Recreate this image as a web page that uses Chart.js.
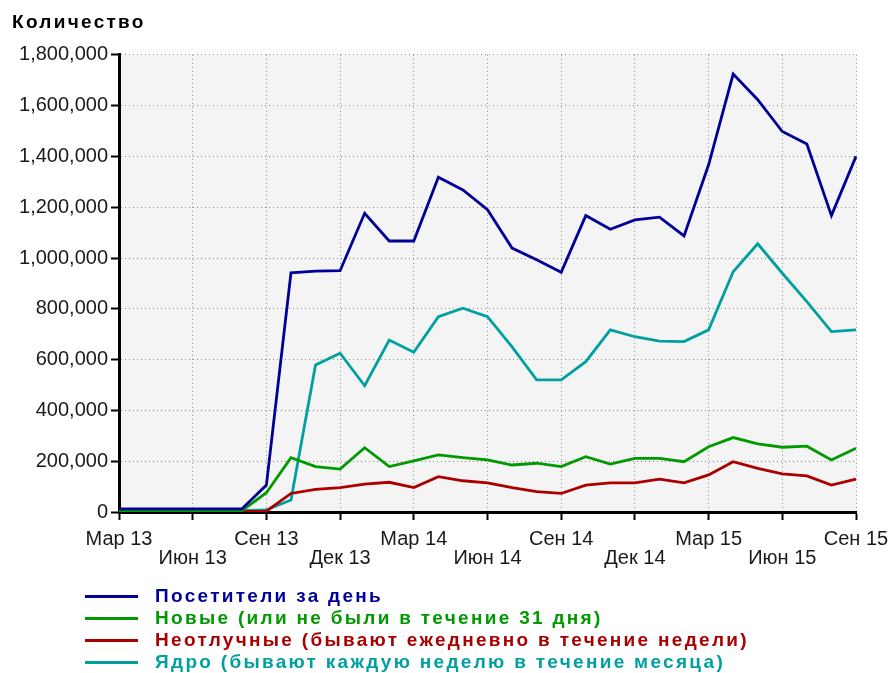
<!DOCTYPE html>
<html>
<head>
<meta charset="utf-8">
<script src="https://cdn.jsdelivr.net/npm/chart.js@4"></script>
<style>
  html, body { margin: 0; padding: 0; background: #fff; }
</style>
</head>
<body>
<canvas id="chart" width="888" height="673"></canvas>
<script>
// one point per month, Mar 2013 .. Sep 2015
const months = [
  'Мар 13', 'Апр 13', 'Май 13', 'Июн 13', 'Июл 13', 'Авг 13', 'Сен 13', 'Окт 13', 'Ноя 13', 'Дек 13',
  'Янв 14', 'Фев 14', 'Мар 14', 'Апр 14', 'Май 14', 'Июн 14', 'Июл 14', 'Авг 14', 'Сен 14', 'Окт 14',
  'Ноя 14', 'Дек 14', 'Янв 15', 'Фев 15', 'Мар 15', 'Апр 15', 'Май 15', 'Июн 15', 'Июл 15', 'Авг 15',
  'Сен 15'
];

const visitors = [
  12000, 12000, 12000, 12000, 12000, 12000, 106000, 942000, 948000, 950000,
  1176000, 1067000, 1067000, 1318000, 1268000, 1190000, 1039000, 993000, 944000, 1167000,
  1113000, 1150000, 1161000, 1087000, 1367000, 1724000, 1623000, 1498000, 1449000, 1167000,
  1400000
];
const newcomers = [
  5000, 5000, 5000, 5000, 5000, 5000, 76000, 214000, 179000, 169000,
  253000, 179000, 201000, 225000, 214000, 205000, 185000, 192000, 179000, 218000,
  189000, 211000, 211000, 198000, 257000, 293000, 268000, 255000, 259000, 205000,
  251000
];
const regulars = [
  2000, 2000, 2000, 2000, 2000, 2000, 3000, 73000, 89000, 96000,
  110000, 117000, 96000, 139000, 123000, 115000, 96000, 80000, 73000, 106000,
  115000, 115000, 129000, 115000, 146000, 198000, 172000, 150000, 142000, 106000,
  129000
];
const core = [
  5000, 5000, 5000, 5000, 5000, 5000, 8000, 47000, 579000, 625000,
  497000, 677000, 629000, 769000, 802000, 769000, 650000, 520000, 520000, 592000,
  717000, 690000, 673000, 671000, 717000, 946000, 1056000, 940000, 828000, 710000,
  717000
];

const seriesNames = [
  'Посетители за день',
  'Новые (или не были в течение 31 дня)',
  'Неотлучные (бывают ежедневно в течение недели)',
  'Ядро (бывают каждую неделю в течение месяца)'
];
const seriesColors = ['#000099', '#009900', '#aa0000', '#00a0a0'];

const FONT = '"Liberation Sans", Arial, sans-serif';

const chartLook = {
  id: 'chartLook',
  beforeDraw(chart) {
    const { ctx, chartArea: a } = chart;
    ctx.save();
    ctx.fillStyle = '#f4f4f4';
    ctx.fillRect(a.left, a.top, a.right - a.left, a.bottom - a.top);
    ctx.restore();
    // title and legend text is spaced out in the original
    ctx.letterSpacing = '2.3px';
  },
  afterDatasetsDraw(chart) {
    chart.ctx.letterSpacing = '0px';
  },
  afterLayout(chart) {
    // legend sits indented under the plot
    const lg = chart.legend;
    lg.left += 70; lg.right += 70;
    lg.top += 9; lg.bottom += 9;
  }
};

const datasets = [visitors, newcomers, regulars, core].map((values, i) => ({
  label: seriesNames[i],
  data: values,
  borderColor: seriesColors[i],
  backgroundColor: seriesColors[i],
  borderWidth: 2.8,
  pointRadius: 0,
  tension: 0,
  fill: false
}));

new Chart(document.getElementById('chart'), {
  type: 'line',
  data: { labels: months, datasets: datasets },
  plugins: [chartLook],
  options: {
    responsive: false,
    animation: false,
    layout: { padding: { left: 12, right: 0, top: 0, bottom: 0 } },
    plugins: {
      title: {
        display: true,
        text: 'Количество',
        align: 'start',
        color: '#000',
        font: { family: FONT, size: 19, weight: 'bold' },
        padding: { top: 11, bottom: 21 }
      },
      legend: {
        position: 'bottom',
        align: 'start',
        labels: {
          boxWidth: 53,
          boxHeight: 3,
          padding: 3,
          font: { family: FONT, size: 19, weight: 'bold' },
          generateLabels(chart) {
            return chart.data.datasets.map((ds, i) => ({
              text: ' ' + ds.label + ' '.repeat(90),
              fillStyle: ds.borderColor,
              strokeStyle: ds.borderColor,
              fontColor: ds.borderColor,
              lineWidth: 0,
              hidden: false,
              datasetIndex: i
            }));
          }
        }
      },
      tooltip: { enabled: false }
    },
    scales: {
      x: {
        afterFit(scale) {
          scale.height = 63;
          scale.paddingRight = 32;
        },
        grid: {
          color: (c) => (c.index % 3 === 0 ? '#8c8c8c' : 'transparent'),
          tickColor: (c) => (c.index % 3 === 0 ? '#000' : 'transparent'),
          tickLength: 8,
          tickWidth: 2,
          tickBorderDash: [],
          lineWidth: 1
        },
        border: { display: true, color: '#000', width: 3, dash: [1, 3] },
        ticks: {
          autoSkip: false,
          maxRotation: 0,
          minRotation: 0,
          padding: 10,
          z: 1,
          color: '#1a1a1a',
          font: { family: FONT, size: 20, lineHeight: '19px' },
          callback(value, index) {
            if (index % 3 !== 0) return '';
            const label = months[index];
            return (index / 3) % 2 ? ['', label] : label;
          }
        }
      },
      y: {
        min: 0,
        max: 1800000,
        afterFit(scale) { scale.width = 107; },
        grid: {
          color: '#8c8c8c',
          tickColor: '#000',
          tickLength: 8,
          tickWidth: 2,
          tickBorderDash: [],
          lineWidth: 1
        },
        border: { display: true, color: '#000', width: 3, dash: [1, 3] },
        ticks: {
          stepSize: 200000,
          padding: 3,
          z: 1,
          color: '#1a1a1a',
          font: { family: FONT, size: 20 },
          callback: (v) => v.toLocaleString('en-US')
        }
      }
    }
  }
});
</script>
</body>
</html>
